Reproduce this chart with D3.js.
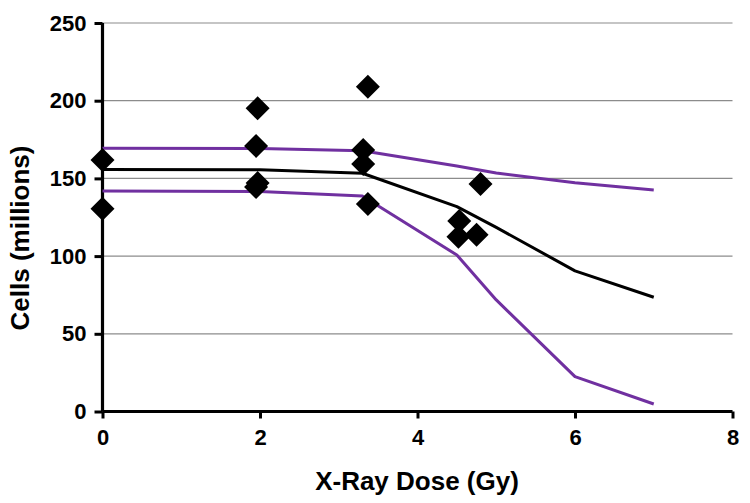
<!DOCTYPE html>
<html><head><meta charset="utf-8">
<script src="https://cdn.jsdelivr.net/npm/d3@7"></script>
<style>body{margin:0;background:#fff}svg{display:block}</style>
</head><body>
<svg id="c" width="750" height="503"></svg>
<script>
// Observed data points (dose Gy, cells millions)
const pointDose  = [0, 0, 1.97, 1.95, 1.97, 1.95, 3.37, 3.31, 3.31, 3.37, 4.80, 4.53, 4.52, 4.75];
const pointCells = [161.8, 130.5, 195.1, 170.9, 147, 144.5, 209, 168.3, 159.3, 133.5, 146.4, 122.6, 112.5, 113.8];
// Model curves
const curveDose   = [0, 2, 3.3, 4.5, 5, 6, 7];
const meanCurve   = [155.8, 155.5, 153.3, 131.8, 118.5, 90.5, 73.5];
const upperCurve  = [169.4, 169.2, 167.8, 158, 153.5, 147.2, 142.5];
const lowerCurve  = [141.9, 141.6, 138.7, 100.7, 71.8, 22.4, 4.8];
const xTicks = [0, 2, 4, 6, 8];
const yTicks = [0, 50, 100, 150, 200, 250];

const svg = d3.select("#c");
const x = d3.scaleLinear().domain([0, 8]).range([102.5, 732.5]);
const y = d3.scaleLinear().domain([0, 250]).range([411.5, 23]);
const font = "'Liberation Sans', Arial, sans-serif";

// gridlines
svg.append("g").selectAll("line").data(yTicks.filter(d => d > 0)).join("line")
  .attr("x1", x(0)).attr("x2", x(8)).attr("y1", d => y(d)).attr("y2", d => y(d))
  .attr("stroke", "#8c8c8c").attr("stroke-width", 1.2);

// axes
const xAxis = svg.append("g").attr("transform", `translate(0,${y(0)})`)
  .call(d3.axisBottom(x).tickValues(xTicks).tickSize(7).tickPadding(11).tickFormat(d3.format("d")));
const yAxis = svg.append("g").attr("transform", `translate(${x(0)},0)`)
  .call(d3.axisLeft(y).tickValues(yTicks).tickSize(8).tickPadding(8).tickFormat(d3.format("d")));
[xAxis, yAxis].forEach(g => {
  g.select(".domain").attr("stroke", "#000").attr("stroke-width", 3.2);
  g.selectAll(".tick line").attr("stroke", "#000").attr("stroke-width", 3);
  g.selectAll("text").attr("font-family", font).attr("font-weight", "bold")
    .attr("font-size", 22).attr("fill", "#000");
});
xAxis.select(".domain").attr("d", `M${x(0)},0H${x(8)}`);
yAxis.select(".domain").attr("d", `M0,${y(0)}V${y(250)}`);

// curves
const line = d3.line().x((d, i) => x(curveDose[i])).y(d => y(d));
[[upperCurve, "#7030a0"], [lowerCurve, "#7030a0"], [meanCurve, "#000"]].forEach(([arr, col]) => {
  svg.append("path").datum(arr).attr("d", line).attr("fill", "none")
    .attr("stroke", col).attr("stroke-width", 3).attr("stroke-linejoin", "round");
});

// diamonds
const r = 12;
svg.append("g").selectAll("path").data(pointDose).join("path")
  .attr("d", (d, i) => {
    const cx = x(d), cy = y(pointCells[i]);
    return `M${cx},${cy - r}L${cx + r},${cy}L${cx},${cy + r}L${cx - r},${cy}Z`;
  })
  .attr("fill", "#000");

// titles
svg.append("text").attr("x", 417).attr("y", 490).attr("text-anchor", "middle")
  .attr("font-family", font).attr("font-weight", "bold").attr("font-size", 26)
  .text("X-Ray Dose (Gy)");
svg.append("text").attr("transform", "translate(29,238) rotate(-90)").attr("text-anchor", "middle")
  .attr("font-family", font).attr("font-weight", "bold").attr("font-size", 26)
  .text("Cells (millions)");
</script>
</body></html>
